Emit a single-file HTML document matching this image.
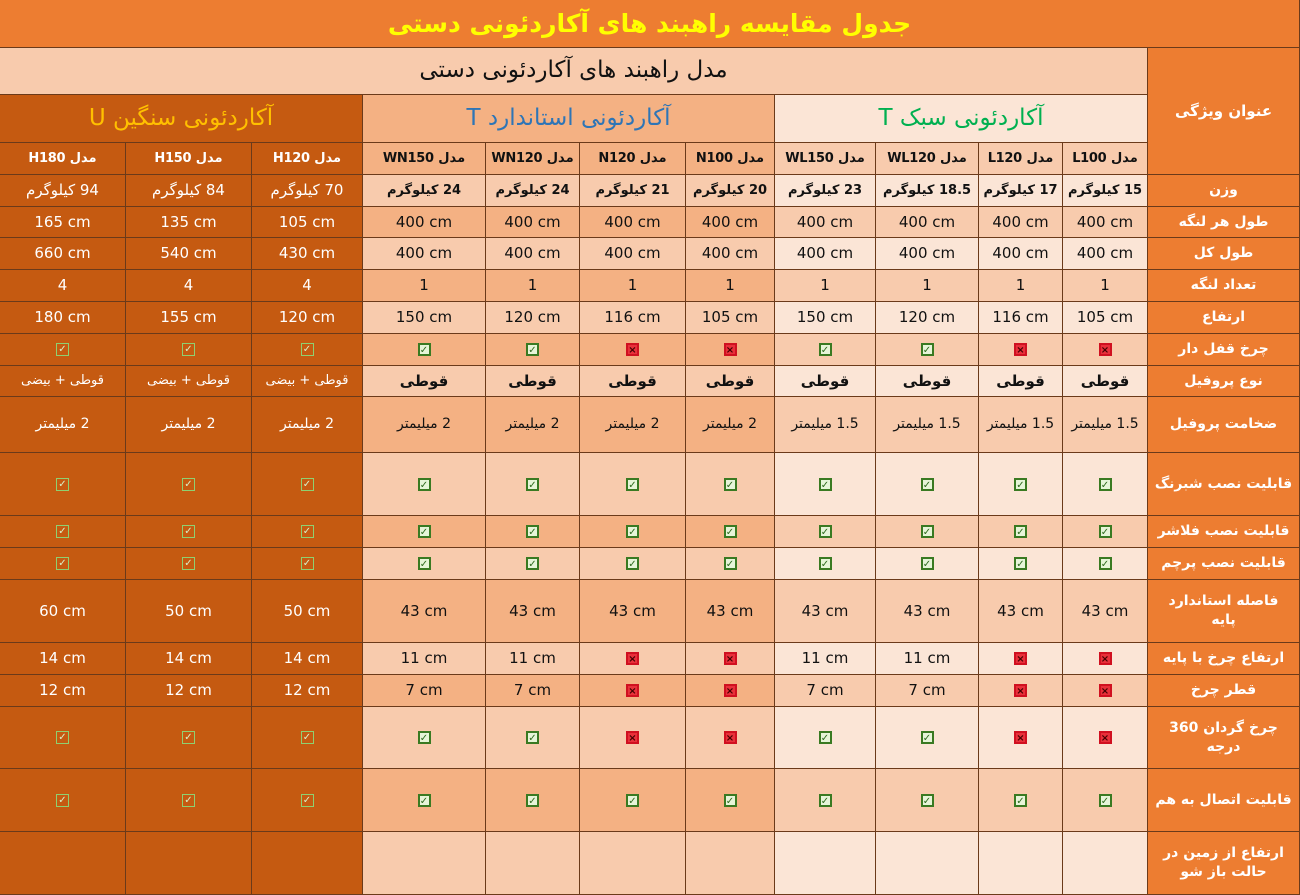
<!DOCTYPE html>
<html><head><meta charset="utf-8">
<style>
html,body{margin:0;padding:0;width:1300px;height:895px;overflow:hidden;background:#ED7D31;}
#t{position:relative;width:1300px;height:895px;font-family:"DejaVu Sans",sans-serif;}
.c{position:absolute;box-sizing:border-box;border-right:1px solid #6b3a1a;border-bottom:1px solid #6b3a1a;display:flex;align-items:center;justify-content:center;text-align:center;direction:rtl;font-size:15px;line-height:1.35;color:#111;}
.ok,.no{display:inline-block;box-sizing:border-box;width:13px;height:13px;font-size:10px;line-height:11px;font-weight:bold;text-align:center;}
.ok{border:2px solid #3a7a22;color:#2e6b1f;background:#e6f5d8;}
.no{border:2px solid #d01020;color:#400;background:#e8303a;}
.h .ok{background:transparent;border:1px solid #8fd070;color:#d8f0c8;}
</style></head><body>
<div id="t"></div>
<script>
const colX=[0,126,252,363,486,580,686,775,876,979,1063,1148,1300];
const rowY=[143,175,207,238,270,302,334,366,397,453,516,548,580,643,675,707,769,832,895];
const models=["مدل H180","مدل H150","مدل H120","مدل WN150","مدل WN120","مدل N120","مدل N100","مدل WL150","مدل WL120","مدل L120","مدل L100"];
const features=["وزن","طول  هر لنگه","طول کل","تعداد لنگه","ارتفاع","چرخ قفل دار","نوع پروفیل","ضخامت پروفیل","قابلیت نصب شبرنگ","قابلیت نصب فلاشر","قابلیت نصب پرچم","فاصله استاندارد پایه","ارتفاع چرخ با پایه","قطر چرخ","چرخ گردان 360 درجه","قابلیت اتصال به هم","ارتفاع از زمین در حالت باز شو"];
const kg=" کیلوگرم";
const weights=["94","84","70","24","24","21","20","23","18.5","17","15"];
const leafLen=["165 cm","135 cm","105 cm","400  cm","400  cm","400  cm","400  cm","400  cm","400  cm","400  cm","400  cm"];
const totalLen=["660 cm","540 cm","430 cm","400  cm","400  cm","400  cm","400  cm","400  cm","400  cm","400  cm","400  cm"];
const counts=["4","4","4","1","1","1","1","1","1","1","1"];
const heights=["180 cm","155 cm","120 cm","150 cm","120 cm","116 cm","105 cm","150 cm","120 cm","116 cm","105 cm"];
const lock=["Y","Y","Y","Y","Y","N","N","Y","Y","N","N"];
const profile=["قوطی + بیضی","قوطی + بیضی","قوطی + بیضی","قوطی","قوطی","قوطی","قوطی","قوطی","قوطی","قوطی","قوطی"];
const thick=["2 میلیمتر","2 میلیمتر","2 میلیمتر","2 میلیمتر","2 میلیمتر","2 میلیمتر","2 میلیمتر","1.5 میلیمتر","1.5 میلیمتر","1.5 میلیمتر","1.5 میلیمتر"];
const allY=["Y","Y","Y","Y","Y","Y","Y","Y","Y","Y","Y"];
const legSpace=["60 cm","50 cm","50 cm","43 cm","43 cm","43 cm","43 cm","43 cm","43 cm","43 cm","43 cm"];
const wheelH=["14 cm","14 cm","14 cm","11 cm","11 cm","N","N","11 cm","11 cm","N","N"];
const wheelD=["12 cm","12 cm","12 cm","7 cm","7 cm","N","N","7 cm","7 cm","N","N"];
const rot=["Y","Y","Y","Y","Y","N","N","Y","Y","N","N"];
const ground=["","","","","","","","","","",""];
const rows=[weights.map(w=>w+kg),leafLen,totalLen,counts,heights,lock,profile,thick,allY,allY,allY,legSpace,wheelH,wheelD,rot,allY,ground];
const T=document.getElementById('t');
function cell(x0,y0,x1,y1,html,bg,name,extra){
  const d=document.createElement('div');d.className='c';
  d.style.left=x0+'px';d.style.top=y0+'px';d.style.width=(x1-x0)+'px';d.style.height=(y1-y0)+'px';
  d.style.background=bg;d.innerHTML=html;if(extra)Object.assign(d.style,extra);
  
  
  T.appendChild(d);return d;}
cell(0,0,1300,48,'جدول مقایسه راهبند های آکاردئونی دستی','#ED7D31','table-title',{color:'#FFFF00',fontSize:'25px',fontWeight:'bold'});
cell(0,48,1148,95,'مدل راهبند های آکاردئونی  دستی','#F8CBAD','main-header',{fontSize:'23px'});
cell(1148,48,1300,175,'عنوان ویژگی','#ED7D31','feature-header',{color:'#fff',fontWeight:'bold',fontSize:'15px'});
cell(0,95,363,143,'آکاردئونی سنگین U','#C55A11','heavy-group-header',{color:'#FFC000',fontSize:'23px'});
cell(363,95,775,143,'آکاردئونی استاندارد T','#F4B183','standard-group-header',{color:'#2E75B6',fontSize:'23px'});
cell(775,95,1148,143,'آکاردئونی سبک T','#FBE5D6','light-group-header',{color:'#00B050',fontSize:'23px'});
function bgFor(c,r){
  if(c<3)return '#C55A11';
  if(c<7)return r%2?'#F8CBAD':'#F4B183';
  return r%2?'#FBE5D6':'#F8CBAD';}
for(let c=0;c<11;c++){
  cell(colX[c],143,colX[c+1],175,models[c],bgFor(c,0),'model-'+c,{fontWeight:'bold',fontSize:'13px',whiteSpace:'nowrap',letterSpacing:'-0.3px',color:c<3?'#fff':'#111'});
}
for(let r=0;r<rows.length;r++){
  const tall=rowY[r+2]-rowY[r+1]>45;
  cell(1148,rowY[r+1],1300,rowY[r+2],features[r],'#ED7D31','feature-label-'+r,{color:'#fff',fontWeight:'bold',fontSize:'14px',padding:'0 6px',whiteSpace:tall?'normal':'nowrap',letterSpacing:'-0.3px'});
  for(let c=0;c<11;c++){
    let v=rows[r][c];
    let isMark=false;
    if(v==='Y'){v='<span class="ok">✓</span>';isMark=true;}else if(v==='N'){v='<span class="no">×</span>';isMark=true;}
    const ltr=!isMark&&(r===1||r===2||r===4||r===11||r===12||r===13);
    const bold=(r===0&&c>2)||(r===6&&c>2);
    const d=cell(colX[c],rowY[r+1],colX[c+1],rowY[r+2],v,bgFor(c,r+1),'cell-r'+r+'-c'+c,{
      color:c<3?'#fff':'#111',fontWeight:bold?'bold':'normal',padding:'0 2px',
      direction:ltr?'ltr':'rtl',whiteSpace:'nowrap',
      fontSize:(r===0&&c>2)?'13px':(r===6&&c<3)?'13px':(r===7)?'14px':'15px',
      letterSpacing:(r===0||r===7||r===6)?'-0.4px':'0'});
    if(c<3)d.classList.add('h');
  }
}
</script>
</body></html>
